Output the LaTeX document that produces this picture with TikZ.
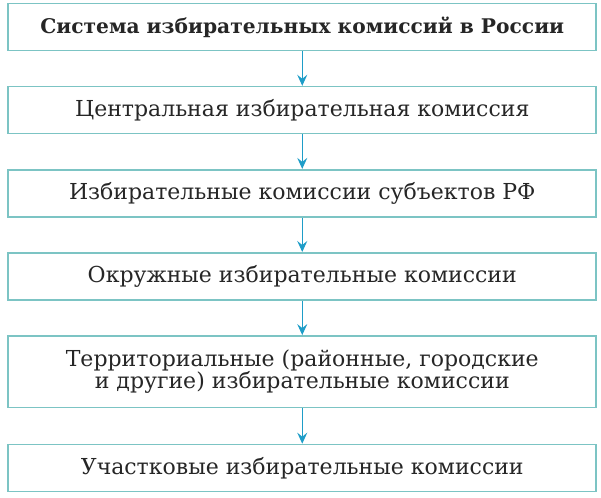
\documentclass[tikz,border=0pt]{standalone}
\usepackage{fontspec}
\setmainfont{DejaVu Serif}
\usetikzlibrary{positioning,arrows.meta}
\definecolor{boxline}{HTML}{7CC4C4}
\definecolor{arrowblue}{HTML}{1E9DC8}
\tikzset{
  level/.style={draw=boxline, line width=1.6pt, minimum width=588pt, minimum height=47pt,
    align=center, text=black!85, font=\fontsize{22}{21}\selectfont},
  link/.style={arrowblue, line width=1.1pt, -{Stealth[length=11pt,width=10pt,inset=4pt]}}
}
\begin{document}
\begin{tikzpicture}[x=1pt,y=1pt,node distance=34.5pt]
  \useasboundingbox (0,0) rectangle (601,-497);
  \node[level, font=\fontsize{20.2}{21}\selectfont\bfseries] (system) at (302.25,-27) {Система избирательных комиссий в России};
  \node[level, below=of system] (central) {Центральная избирательная комиссия};
  \node[level, below=of central] (subjects) {Избирательные комиссии субъектов РФ};
  \node[level, below=of subjects] (district) {Окружные избирательные комиссии};
  \node[level, below=of district, minimum height=71.5pt] (territory) {Территориальные (районные, городские\\и другие) избирательные комиссии};
  \node[level, below=35.5pt of territory] (precinct) {Участковые избирательные комиссии};
  % arrows between the levels
  \foreach \a/\b in {system/central,central/subjects,subjects/district,district/territory,territory/precinct}
    \draw[link] (\a) -- (\b);
\end{tikzpicture}
\end{document}
